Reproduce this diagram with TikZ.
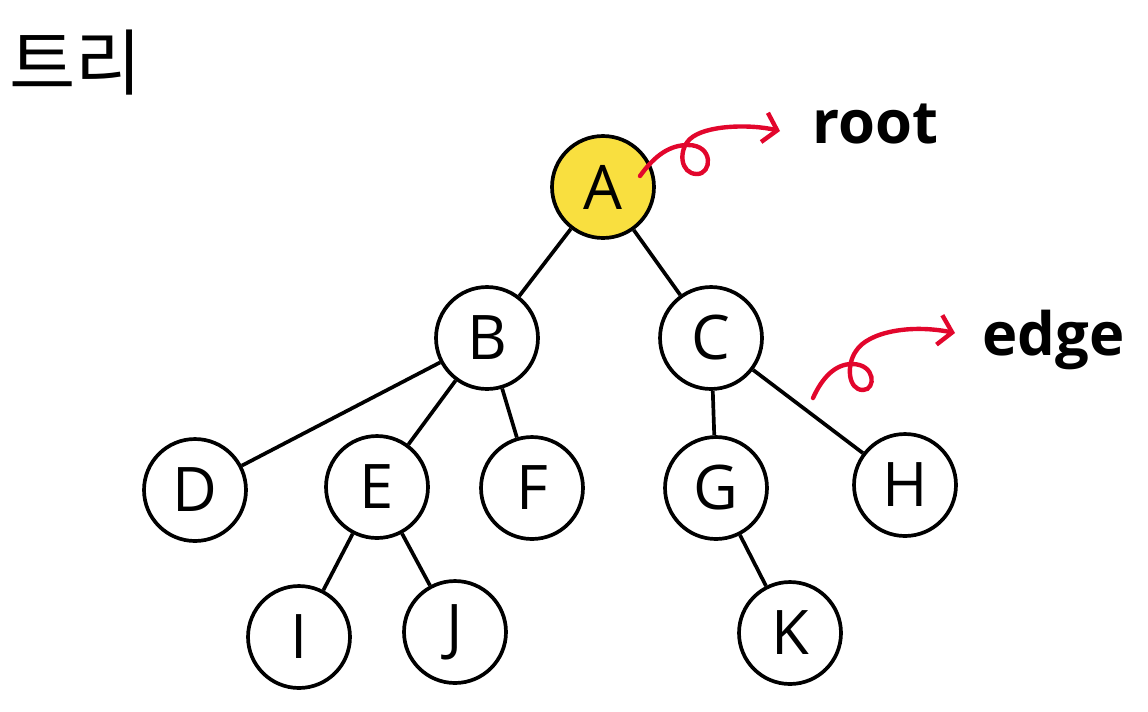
\documentclass[tikz,border=0pt]{standalone}
\usepackage{fontspec}
\setmainfont{Noto Sans}
\newfontfamily\krfont{Noto Sans CJK KR}
\newfontfamily\letterfont{Open Sans}
\newfontfamily\tagfont{Open Sans}[UprightFont={* Bold}]
\usetikzlibrary{arrows.meta}
\definecolor{rootyellow}{HTML}{F9DF3F}
\definecolor{pointred}{HTML}{E2062C}

\begin{document}
\begin{tikzpicture}[x=0.02cm,y=-0.02cm,
	tnode/.style={circle,draw,line width=2.1pt,minimum size=2.04cm,inner sep=0pt,fill=white,
		font=\letterfont\fontsize{35}{35}\selectfont},
	link/.style={line width=2.1pt},
	pointer/.style={pointred,line width=2.5pt,line cap=round,-{Straight Barb[length=2.6mm,width=6mm]}},
	tag/.style={font=\tagfont\fontsize{34}{34}\selectfont,anchor=base west}]
	\useasboundingbox (0,0) rectangle (1148,711);
	\node[font=\krfont\fontsize{41}{41}\selectfont,anchor=west] (title) at (3,63) {트리};
	\node[tnode,fill=rootyellow] (A) at (603,187) {A};
	\node[tnode] (B) at (487,338) {B};
	\node[tnode] (C) at (711,338) {C};
	\node[tnode] (D) at (195,490) {D};
	\node[tnode] (E) at (377,487) {E};
	\node[tnode] (F) at (532,488) {F};
	\node[tnode] (G) at (716,488) {G};
	\node[tnode] (H) at (905,485) {H};
	\node[tnode] (I) at (299,637) {I};
	\node[tnode] (J) at (455,632) {J};
	\node[tnode] (K) at (790,633) {K};
	\draw[link] (A) -- (B);
	\draw[link] (A) -- (C);
	\draw[link] (B) -- (D);
	\draw[link] (B) -- (E);
	\draw[link] (B) -- (F);
	\draw[link] (C) -- (G);
	\draw[link] (C) -- (H);
	\draw[link] (E) -- (I);
	\draw[link] (E) -- (J);
	\draw[link] (G) -- (K);
	% curly pointers
	\coordinate (rootstart) at (640,176);
	\coordinate (rootend) at (780,131);
	\draw[pointer] (rootstart) .. controls (655,155) and (670,145) .. (688,145)
		.. controls (714,145) and (712,174) .. (697,174)
		.. controls (680,174) and (678,150) .. (690,139)
		.. controls (705,125) and (750,124) .. (rootend);
	\coordinate (edgestart) at (813,398);
	\coordinate (edgeend) at (955,333);
	\draw[pointer] (edgestart) .. controls (822,378) and (835,364) .. (852,364)
		.. controls (876,364) and (876,390) .. (863,390)
		.. controls (848,390) and (846,365) .. (856,351)
		.. controls (868,332) and (910,324) .. (edgeend);
	\node[tag] (roottag) at (806,143) {root};
	\node[tag] (edgetag) at (976,355) {edge};
\end{tikzpicture}
\end{document}
